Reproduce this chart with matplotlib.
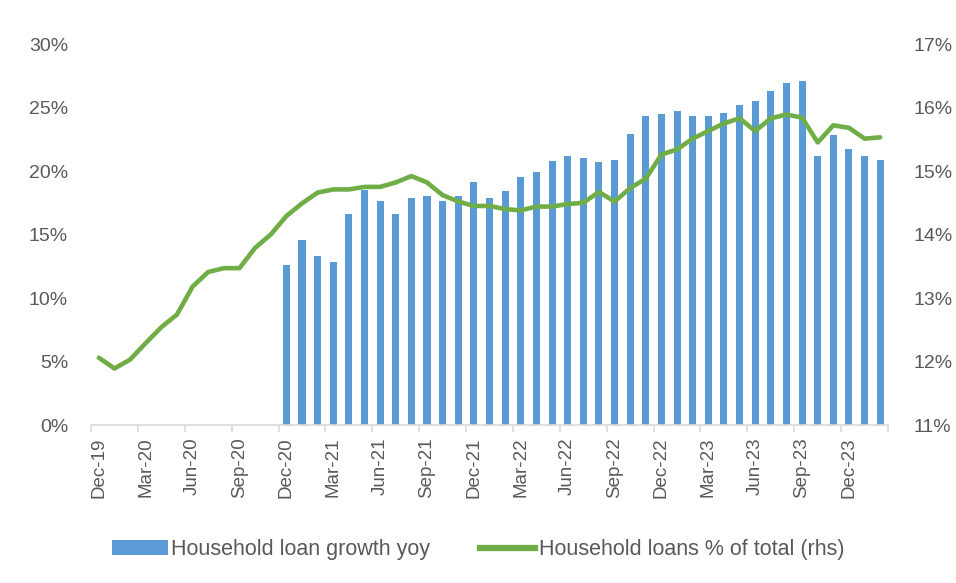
#!/usr/bin/env python3
"""Household loan growth (bars, lhs) vs household share of total loans (line, rhs)."""

import numpy as np
import matplotlib
matplotlib.use("Agg")
import matplotlib.pyplot as plt
from matplotlib.patches import Patch
from matplotlib.lines import Line2D
from matplotlib.ticker import FuncFormatter

# Monthly, Dec-19 .. Feb-24
months = ["Dec-19", "Jan-20", "Feb-20", "Mar-20", "Apr-20", "May-20", "Jun-20", "Jul-20",
          "Aug-20", "Sep-20", "Oct-20", "Nov-20", "Dec-20", "Jan-21", "Feb-21", "Mar-21",
          "Apr-21", "May-21", "Jun-21", "Jul-21", "Aug-21", "Sep-21", "Oct-21", "Nov-21",
          "Dec-21", "Jan-22", "Feb-22", "Mar-22", "Apr-22", "May-22", "Jun-22", "Jul-22",
          "Aug-22", "Sep-22", "Oct-22", "Nov-22", "Dec-22", "Jan-23", "Feb-23", "Mar-23",
          "Apr-23", "May-23", "Jun-23", "Jul-23", "Aug-23", "Sep-23", "Oct-23", "Nov-23",
          "Dec-23", "Jan-24", "Feb-24"]

# yoy growth, % (no data before Dec-20)
loan_growth = [np.nan] * 12 + [
    12.6, 14.6, 13.3, 12.8, 16.6, 18.5, 17.6, 16.6, 17.85, 18.05, 17.6, 18.05,
    19.1, 17.85, 18.4, 19.5, 19.95, 20.8, 21.2, 21.0, 20.7, 20.9, 22.9, 24.35,
    24.45, 24.7, 24.35, 24.35, 24.6, 25.2, 25.55, 26.3, 26.9, 27.1, 21.15, 22.8,
    21.75, 21.2, 20.9]

# household loans as % of total loans
loan_share = [12.06, 11.89, 12.03, 12.29, 12.54, 12.74, 13.18, 13.41, 13.47, 13.47,
              13.79, 14.00, 14.29, 14.49, 14.66, 14.71, 14.71, 14.75, 14.75, 14.82,
              14.92, 14.82, 14.62, 14.52, 14.45, 14.45, 14.40, 14.38, 14.44, 14.44,
              14.48, 14.50, 14.67, 14.52, 14.73, 14.88, 15.26, 15.34, 15.51, 15.63,
              15.75, 15.83, 15.63, 15.83, 15.89, 15.84, 15.45, 15.72, 15.68, 15.51,
              15.53]

BLUE = "#5B9BD5"
GREEN = "#70AD47"
GREY = "#595959"
AXIS = "#D9D9D9"

plt.rcParams["font.family"] = ["Liberation Sans", "DejaVu Sans"]

fig = plt.figure(figsize=(9.56, 5.83), dpi=100)
ax1 = fig.add_axes([0.0952, 0.271, 0.8337, 0.6535])
ax2 = ax1.twinx()

x = np.arange(len(months))
ax1.bar(x, loan_growth, width=0.45, color=BLUE, zorder=2)
ax2.plot(x, loan_share, color=GREEN, linewidth=3.3, solid_joinstyle="round",
         solid_capstyle="round", zorder=3)

ax1.set_xlim(-0.5, len(months) - 0.5)
ax1.set_ylim(0, 30)
ax2.set_ylim(11, 17)
ax1.set_yticks(np.arange(0, 31, 5))
ax2.set_yticks(np.arange(11, 18, 1))
pct = FuncFormatter(lambda v, _: f"{v:.0f}%")
ax1.yaxis.set_major_formatter(pct)
ax2.yaxis.set_major_formatter(pct)

# labels every quarter, tick marks on the category boundaries
ax1.set_xticks(x[::3])
ax1.set_xticklabels(months[::3], rotation=90, fontsize=13.5, color=GREY)
ax1.set_xticks(np.arange(-0.5, len(months), 3), minor=True)
ax1.tick_params(axis="x", which="major", length=0, pad=9)
ax1.tick_params(axis="x", which="minor", length=5, color=AXIS, width=1.2)

ax1.tick_params(axis="y", length=0, labelsize=14, labelcolor=GREY, pad=16.5)
ax2.tick_params(axis="y", length=0, labelsize=14, labelcolor=GREY, pad=18)

for ax in (ax1, ax2):
    for side in ("top", "left", "right"):
        ax.spines[side].set_visible(False)
ax1.spines["bottom"].set_color(AXIS)
ax1.spines["bottom"].set_linewidth(1.2)
ax2.spines["bottom"].set_visible(False)

handles = [Patch(facecolor=BLUE, edgecolor="none"),
           Line2D([0], [0], color=GREEN, linewidth=4.5)]
fig.legend(handles, ["Household loan growth yoy", "Household loans % of total (rhs)"],
           loc="center", bbox_to_anchor=(0.5, 0.057), ncol=2, frameon=False,
           fontsize=15.5, labelcolor=GREY, handlelength=2.6, handletextpad=0.15,
           columnspacing=2.3)

fig.savefig("out.png", dpi=100)
